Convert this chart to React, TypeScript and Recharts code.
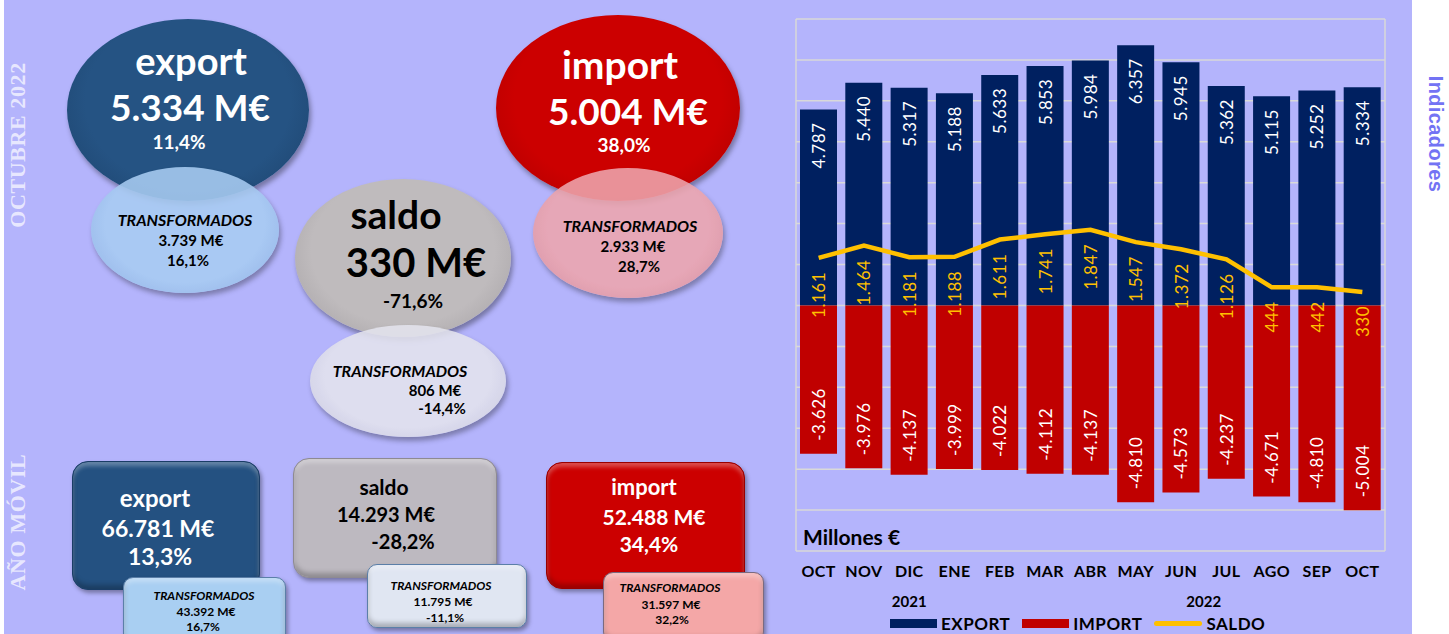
import React from 'react';
import { ComposedChart, Bar, Line, XAxis, YAxis, CartesianGrid, LabelList, Legend } from 'recharts';

const months = ['OCT', 'NOV', 'DIC', 'ENE', 'FEB', 'MAR', 'ABR', 'MAY', 'JUN', 'JUL', 'AGO', 'SEP', 'OCT'];
const years = ['', '', '2021', '', '', '', '', '', '2022', '', '', '', ''];
const exportVals = [4787, 5440, 5317, 5188, 5633, 5853, 5984, 6357, 5945, 5362, 5115, 5252, 5334];
const importVals = [-3626, -3976, -4137, -3999, -4022, -4112, -4137, -4810, -4573, -4237, -4671, -4810, -5004];
const saldoVals = [1161, 1464, 1181, 1188, 1611, 1741, 1847, 1547, 1372, 1126, 444, 442, 330];
const yTicks = [-6000, -5000, -4000, -3000, -2000, -1000, 0, 1000, 2000, 3000, 4000, 5000, 6000, 7000];

const data = months.map((m, i) => ({
  month: m,
  year: years[i],
  EXPORT: exportVals[i],
  IMPORT: importVals[i],
  SALDO: saldoVals[i],
}));

const FONT = 'Lato, "Open Sans", sans-serif';
const BG = '#b4b4fc';
const C_EXP = '#002060';
const C_IMP = '#c00000';
const C_SAL = '#ffc000';

const fmt = (v: number) => (v < 0 ? '-' : '') + Math.abs(v).toString().replace(/\B(?=(\d{3})+(?!\d))/g, '.');

const box = (p: any) => {
  const vb = p.viewBox || {};
  return {
    x: p.x ?? vb.x,
    y: p.y ?? vb.y,
    width: p.width ?? vb.width ?? 0,
    height: p.height ?? vb.height ?? 0,
  };
};

const pick = (p: any, arr: number[]) => {
  if (typeof p.index === 'number') return arr[p.index];
  const v = p.value;
  return Array.isArray(v) ? v[v.length - 1] : v;
};

// etiqueta dentro del extremo superior de la barra de export
const ExportLabel = (p: any) => {
  const { x, y, width, height } = box(p);
  const top = Math.min(y, y + height);
  const cx = x + width / 2;
  const ty = top + 13;
  return (
    <text x={cx} y={ty} transform={`rotate(-90 ${cx} ${ty})`} textAnchor="end" dominantBaseline="central"
      fill="#fff" fontSize={17} fontFamily={FONT} letterSpacing={0.5}>
      {fmt(pick(p, exportVals))}
    </text>
  );
};

const ImportLabel = (p: any) => {
  const { x, y, width, height } = box(p);
  const bottom = Math.max(y, y + height);
  const cx = x + width / 2;
  const ty = bottom - 13;
  return (
    <text x={cx} y={ty} transform={`rotate(-90 ${cx} ${ty})`} textAnchor="start" dominantBaseline="central"
      fill="#fff" fontSize={17} fontFamily={FONT} letterSpacing={0.5}>
      {fmt(pick(p, importVals))}
    </text>
  );
};

const SaldoLabel = (p: any) => {
  const { x, y } = box(p);
  const ty = y + 14;
  return (
    <text x={x} y={ty} transform={`rotate(-90 ${x} ${ty})`} textAnchor="end" dominantBaseline="central"
      fill={C_SAL} fontSize={17} fontFamily={FONT} letterSpacing={0.5}>
      {fmt(pick(p, saldoVals))}
    </text>
  );
};

const CatTick = (p: any) => {
  const { x, y, payload } = p;
  const yr = years[payload.index] || '';
  const shift = yr === '2022' ? (payload.offset ?? 22.6) : 0;
  return (
    <g>
      <text x={x} y={y + 26} textAnchor="middle" fontSize={16} fontWeight="bold" fill="#000" fontFamily={FONT} letterSpacing={0.4}>
        {payload.value}
      </text>
      {yr && (
        <text x={x + shift} y={y + 56} textAnchor="middle" fontSize={15} fontWeight="bold" fill="#000" fontFamily={FONT}>
          {yr}
        </text>
      )}
    </g>
  );
};

const renderLegend = (props: any) => {
  const { payload } = props;
  return (
    <div style={{ display: 'flex', alignItems: 'center', height: 20, fontFamily: FONT, whiteSpace: 'nowrap' }}>
      {(payload || []).map((e: any) => (
        <div key={e.value} style={{ display: 'flex', alignItems: 'center', marginRight: 12 }}>
          {e.type === 'line' ? (
            <div style={{ width: 48, height: 5, borderRadius: 3, background: e.color, marginRight: 4 }} />
          ) : (
            <div style={{ width: 47, height: 9, background: e.color, marginRight: 4 }} />
          )}
          <span style={{ fontSize: 17, fontWeight: 'bold', color: '#000', letterSpacing: 0.5 }}>{e.value}</span>
        </div>
      ))}
    </div>
  );
};

type Txt = { t: string; cx: number; cy: number; s: number; c?: string; i?: boolean };

const Label = ({ t, cx, cy, s, c = '#000', i }: Txt) => (
  <div style={{
    position: 'absolute', left: cx, top: cy, transform: 'translate(-50%, -50%)', whiteSpace: 'nowrap',
    fontFamily: FONT, fontWeight: 'bold', fontStyle: i ? 'italic' : 'normal', fontSize: s, lineHeight: 1, color: c,
  }}>{t}</div>
);

const Oval = ({ cx, cy, rx, ry, color, edge, opacity = 1 }: any) => (
  <div style={{
    position: 'absolute', left: cx - rx, top: cy - ry, width: 2 * rx, height: 2 * ry, borderRadius: '50%',
    background: `radial-gradient(ellipse at 50% 45%, ${color} 60%, ${edge} 100%)`, opacity,
    boxShadow: '2px 4px 5px rgba(0,0,0,0.35)',
  }} />
);

const Card = ({ l, t, w, h, color, edge, r = 16 }: any) => (
  <div style={{
    position: 'absolute', left: l, top: t, width: w, height: h, borderRadius: r, background: color,
    border: `1.5px solid ${edge}`, boxSizing: 'border-box',
    boxShadow: 'inset 0 4px 4px rgba(255,255,255,0.3), inset 0 -4px 5px rgba(0,0,0,0.25), 2px 3px 4px rgba(0,0,0,0.35)',
  }} />
);

const App: React.FC = () => {
  return (
    <div style={{ position: 'absolute', left: 0, top: 0, width: 1449, height: 634, background: '#fff', overflow: 'hidden' }}>
      <div style={{ position: 'absolute', left: 4, top: 0, width: 1408, height: 634, background: BG }} />

      <div style={{
        position: 'absolute', left: 18, top: 145, transform: 'translate(-50%, -50%) rotate(-90deg)', whiteSpace: 'nowrap',
        fontFamily: '"Liberation Serif", serif', fontWeight: 'bold', fontSize: 22, letterSpacing: 0.6, color: 'rgba(255,255,255,0.7)',
      }}>OCTUBRE 2022</div>
      <div style={{
        position: 'absolute', left: 18, top: 522, transform: 'translate(-50%, -50%) rotate(-90deg)', whiteSpace: 'nowrap',
        fontFamily: '"Liberation Serif", serif', fontWeight: 'bold', fontSize: 22, letterSpacing: 0.6, color: 'rgba(255,255,255,0.7)',
      }}>AÑO MÓVIL</div>
      <div style={{
        position: 'absolute', left: 1436, top: 134, transform: 'translate(-50%, -50%) rotate(90deg)', whiteSpace: 'nowrap',
        fontFamily: '"Liberation Sans", Arial, sans-serif', fontWeight: 'bold', fontSize: 20, lineHeight: 1, letterSpacing: 0.4, color: '#7373f4',
      }}>Indicadores</div>

      {/* mes */}
      <Oval cx={188} cy={110} rx={121} ry={91} color="#255383" edge="#1b4068" />
      <Oval cx={185} cy={230} rx={94} ry={63} color="#a8ccf2" edge="#86aee0" opacity={0.88} />
      <Oval cx={403} cy={258} rx={108} ry={79} color="#bfbbbd" edge="#9f9b9e" />
      <Oval cx={408} cy={381} rx={98} ry={56} color="#e4e4ee" edge="#c4c4d4" opacity={0.88} />
      <Oval cx={618} cy={108} rx={122} ry={93} color="#cc0000" edge="#a80000" />
      <Oval cx={628} cy={233} rx={95} ry={65} color="#eea6ae" edge="#d88890" opacity={0.88} />

      <Label t="export" cx={191} cy={60} s={38} c="#fff" />
      <Label t="5.334 M€" cx={190} cy={106} s={37} c="#fff" />
      <Label t="11,4%" cx={179} cy={141} s={19} c="#fff" />
      <Label t="TRANSFORMADOS" cx={185} cy={220} s={16} i />
      <Label t="3.739 M€" cx={191} cy={240} s={15} />
      <Label t="16,1%" cx={188} cy={260} s={15} />

      <Label t="saldo" cx={396} cy={214} s={39} />
      <Label t="330 M€" cx={416} cy={262} s={40} />
      <Label t="-71,6%" cx={413} cy={300} s={19} />
      <Label t="TRANSFORMADOS" cx={400} cy={371} s={16} i />
      <Label t="806 M€" cx={435} cy={390} s={15} />
      <Label t="-14,4%" cx={442} cy={408} s={15} />

      <Label t="import" cx={620} cy={64} s={39} c="#fff" />
      <Label t="5.004 M€" cx={628} cy={110} s={37} c="#fff" />
      <Label t="38,0%" cx={624} cy={144} s={19} c="#fff" />
      <Label t="TRANSFORMADOS" cx={630} cy={226} s={16} i />
      <Label t="2.933 M€" cx={633} cy={246} s={15} />
      <Label t="28,7%" cx={639} cy={266} s={15} />

      {/* año móvil */}
      <Card l={72} t={461} w={188} h={129} color="#245181" edge="#1a3d66" />
      <Card l={123} t={577} w={163} h={70} color="#a9cff2" edge="#5b7fa8" r={10} />
      <Card l={293} t={458} w={204} h={120} color="#bdb9c0" edge="#8e8a92" />
      <Card l={367} t={564} w={160} h={64} color="#e0e6f2" edge="#5b7fa8" r={10} />
      <Card l={546} t={462} w={199} h={127} color="#cc0000" edge="#990000" />
      <Card l={603} t={572} w={161} h={70} color="#f4a7a7" edge="#7a6a80" r={10} />

      <Label t="export" cx={155} cy={498} s={24} c="#fff" />
      <Label t="66.781 M€" cx={158} cy={528} s={23} c="#fff" />
      <Label t="13,3%" cx={160} cy={556} s={23} c="#fff" />
      <Label t="TRANSFORMADOS" cx={204} cy={596} s={12} i />
      <Label t="43.392 M€" cx={206} cy={612} s={12} />
      <Label t="16,7%" cx={203} cy={627} s={12} />

      <Label t="saldo" cx={384} cy={486} s={21} />
      <Label t="14.293 M€" cx={386} cy={514} s={20} />
      <Label t="-28,2%" cx={403} cy={541} s={20} />
      <Label t="TRANSFORMADOS" cx={441} cy={586} s={12} i />
      <Label t="11.795 M€" cx={443} cy={602} s={12} />
      <Label t="-11,1%" cx={445} cy={618} s={12} />

      <Label t="import" cx={644} cy={487} s={22} c="#fff" />
      <Label t="52.488 M€" cx={654} cy={516} s={21} c="#fff" />
      <Label t="34,4%" cx={649} cy={543} s={21} c="#fff" />
      <Label t="TRANSFORMADOS" cx={670} cy={588} s={12} i />
      <Label t="31.597 M€" cx={671} cy={605} s={12} />
      <Label t="32,2%" cx={672} cy={620} s={12} />

      <div style={{ position: 'absolute', left: 780, top: 0 }}>
        <ComposedChart width={620} height={634} data={data} stackOffset="sign"
          margin={{ top: 19, right: 15, left: 16, bottom: 23 }}>
          <CartesianGrid stroke="#d9d9d9" strokeWidth={1.5}
            verticalCoordinatesGenerator={({ offset }: any) => [offset.left, offset.left + offset.width]} />
          <XAxis dataKey="month" axisLine={false} tickLine={false} tickSize={0} tickMargin={0} interval={0}
            height={60} tick={<CatTick />} />
          <YAxis hide domain={[-6000, 7000]} ticks={yTicks} />
          <Legend verticalAlign="middle" align="center" layout="horizontal" content={renderLegend}
            wrapperStyle={{ left: 110, top: 613, width: 'auto' }} />
          <Bar dataKey="EXPORT" stackId="s" fill={C_EXP} barSize={37} isAnimationActive={false}>
            <LabelList dataKey="EXPORT" content={<ExportLabel />} />
          </Bar>
          <Bar dataKey="IMPORT" stackId="s" fill={C_IMP} barSize={37} isAnimationActive={false}>
            <LabelList dataKey="IMPORT" content={<ImportLabel />} />
          </Bar>
          <Line dataKey="SALDO" type="linear" stroke={C_SAL} strokeWidth={4.5} dot={false} isAnimationActive={false}>
            <LabelList dataKey="SALDO" content={<SaldoLabel />} />
          </Line>
        </ComposedChart>
      </div>
      <div style={{ position: 'absolute', left: 803, top: 524, fontFamily: FONT, fontWeight: 'bold', fontSize: 21, color: '#000' }}>
        Millones €
      </div>
    </div>
  );
};

export default App;
